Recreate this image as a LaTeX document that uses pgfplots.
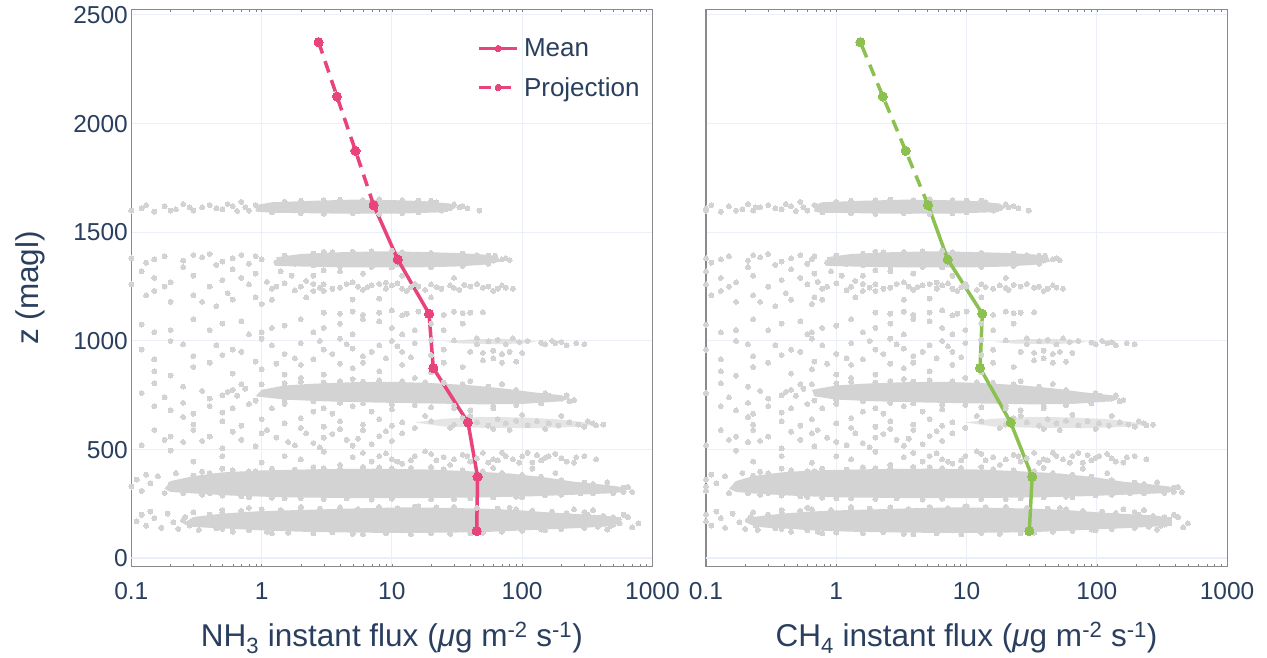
\documentclass[border=0pt]{standalone}
\usepackage{pgfplots}
\pgfplotsset{compat=1.18}
\usepackage{pgfplotstable}
\usepackage{fontspec}
\setmainfont{Liberation Sans}
\definecolor{txt}{HTML}{2A3F5F}
\definecolor{gridc}{HTML}{EBF0F8}
\definecolor{boxc}{HTML}{8A8A8A}
\definecolor{ptc}{HTML}{D3D3D3}
\definecolor{nhc}{HTML}{E8437B}
\definecolor{chc}{HTML}{8CC152}

% scatter points: a = NH3 flux, b = CH4 flux, z = height
\pgfplotstableread{
a b z
0.11 0.10 170
0.12 0.10 200
0.13 0.11 150
0.15 0.13 185
0.17 0.14 140
0.19 0.16 205
0.21 0.18 165
0.23 0.20 135
0.26 0.22 190
0.28 0.24 150
0.30 0.23 212
0.33 0.25 130
0.36 0.27 178
0.40 0.30 200
0.45 0.34 138
0.50 0.38 222
0.60 0.45 122
0.80 0.60 232
1.2 0.78 114
2.0 1.3 236
5.0 3.3 112
15 9.8 238
40 26 115
80 52 232
150 98 128
300 195 212
450 290 132
550 360 178
650 420 190
780 500 160
700 460 142
350 230 222
600 390 200
500 330 155
250 160 225
0.14 0.12 215
0.35 0.26 160
0.7 0.53 190
0.55 0.41 170
0.42 0.32 185
0.25 0.21 175
0.10 0.10 330
0.11 0.10 362
0.12 0.10 310
0.14 0.12 345
0.16 0.14 378
0.18 0.15 300
0.20 0.17 340
0.22 0.19 392
0.25 0.21 322
0.30 0.23 365
0.35 0.26 398
0.40 0.30 300
0.50 0.38 412
0.70 0.53 285
0.13 0.11 385
0.28 0.24 345
0.45 0.34 335
250 160 330
300 195 312
350 230 342
400 260 322
500 330 300
580 380 315
650 420 328
280 180 298
180 120 392
120 78 412
60 39 416
20 13 420
8 5.2 418
3 2.0 414
700 450 305
450 290 350
0.9 0.68 400
1.5 1.0 275
30 20 272
100 65 280
1.0 0.65 440
1.5 1.0 470
2.0 1.3 455
3.0 2.0 490
4.0 2.6 430
5.0 3.3 465
7.0 4.6 445
9.0 5.9 482
12 7.8 435
15 9.8 470
18 12 492
22 14 450
28 18 430
35 23 476
45 29 460
55 36 440
70 46 486
85 55 455
100 65 470
120 78 440
150 98 462
180 120 480
220 140 445
300 195 470
370 240 455
0.5 0.38 470
0.3 0.23 445
0.2 0.17 495
25 16 465
60 39 455
130 85 475
40 26 445
10 6.5 455
250 160 440
0.12 0.10 520
0.20 0.17 560
0.35 0.26 540
0.60 0.45 582
0.90 0.68 515
1.3 0.85 555
2.0 1.3 600
2.5 1.6 530
3.5 2.3 572
4.5 2.9 545
6.0 3.9 590
8.0 5.2 562
0.15 0.13 590
0.50 0.38 505
1.8 1.2 520
5.0 3.3 518
0.25 0.21 535
1.0 0.65 575
3.0 2.0 555
12 7.8 575
0.5 0.38 630
0.7 0.53 610
1.0 0.65 640
1.5 1.0 620
2.0 1.3 645
3.0 2.0 605
4.0 2.6 630
6.0 3.9 615
8.0 5.2 640
12 7.8 625
15 9.8 600
18 12 655
300 195 605
350 230 620
420 270 615
200 130 655
100 65 660
80 52 590
150 98 595
0.3 0.23 615
0.25 0.21 650
10 6.5 610
0.20 0.17 680
0.40 0.30 700
1.2 0.78 690
2.5 1.6 675
5.0 3.3 700
10 6.5 685
20 13 695
40 26 680
0.80 0.60 710
0.15 0.13 700
3.5 2.3 665
0.3 0.23 665
0.12 0.10 760
0.18 0.15 740
0.25 0.21 790
0.35 0.26 770
0.50 0.38 750
0.70 0.53 800
0.90 0.68 725
80 52 765
100 65 745
130 85 732
160 105 748
200 130 735
250 160 728
2.0 1.3 830
5.0 3.3 825
15 9.8 830
40 26 815
70 46 802
0.6 0.45 775
0.4 0.30 735
0.15 0.13 805
0.15 0.13 860
0.30 0.23 880
0.60 0.45 850
1.0 0.65 870
2.0 1.3 890
3.0 2.0 845
5.0 3.3 875
8.0 5.2 860
12 7.8 890
20 13 855
35 23 880
0.2 0.17 840
1.5 1.0 845
4.0 2.6 895
0.12 0.10 960
0.20 0.17 1000
0.30 0.23 930
0.45 0.34 980
0.70 0.53 950
1.0 0.65 1010
1.5 1.0 940
2.0 1.3 990
3.0 2.0 960
4.0 2.6 1010
6.0 3.9 930
8.0 5.2 980
10 6.5 1000
12 7.8 950
15 9.8 990
20 13 1005
150 98 985
180 120 990
220 140 980
300 195 985
40 26 950
50 33 945
60 39 955
70 46 940
80 52 950
100 65 945
50 33 910
70 46 900
90 58 905
60 39 920
20 13 935
25 16 900
0.9 0.68 905
2.5 1.6 915
5.0 3.3 965
0.15 0.13 915
0.20 0.17 1050
0.50 0.38 1080
1.0 0.65 1040
2.0 1.3 1100
3.0 2.0 1060
5.0 3.3 1030
8.0 5.2 1090
15 9.8 1050
0.30 0.23 1100
0.80 0.60 1030
0.12 0.10 1075
1.5 1.0 1070
3 2.0 1130
4 2.6 1125
5 3.3 1135
6 3.9 1120
8 5.2 1130
10 6.5 1140
13 8.5 1125
16 10 1135
20 13 1130
25 16 1120
30 20 1135
35 23 1128
40 26 1130
50 33 1132
12 7.8 1118
0.10 0.10 1260
0.15 0.13 1230
0.20 0.17 1270
0.30 0.23 1210
0.40 0.30 1250
0.60 0.45 1190
0.80 0.60 1260
1.2 0.78 1240
1.5 1.0 1265
2.0 1.3 1250
2.5 1.6 1230
3.0 2.0 1260
4.0 2.6 1245
5.0 3.3 1270
6.0 3.9 1235
7.0 4.6 1255
9.0 5.9 1240
11 7.2 1265
13 8.5 1230
16 10 1250
20 13 1260
24 16 1240
28 18 1255
33 21 1235
40 26 1250
50 33 1245
60 39 1230
70 46 1255
85 55 1240
1.1 0.72 1272
2.2 1.4 1276
3.5 2.3 1240
5.5 3.6 1250
10 6.5 1255
18 12 1235
1.8 1.2 1232
8 5.2 1262
14 9.1 1248
45 29 1262
0.12 0.10 1320
0.20 0.17 1180
0.30 0.23 1300
0.45 0.34 1160
0.60 0.45 1330
0.90 0.68 1200
1.4 0.91 1320
0.25 0.21 1340
0.15 0.13 1290
0.7 0.53 1290
2.5 1.6 1300
4 2.6 1320
5 3.3 1190
1 0.65 1170
0.10 0.10 1380
0.13 0.11 1360
0.18 0.15 1390
0.25 0.21 1370
0.35 0.26 1385
0.50 0.38 1365
0.70 0.53 1395
1.0 0.65 1375
1.3 0.85 1360
50 33 1380
60 39 1370
70 46 1375
45 29 1395
3 2.0 1410
10 6.5 1415
0.8 0.6 1355
0.4 0.3 1400
0.10 0.10 1600
0.12 0.10 1610
0.15 0.13 1595
0.18 0.15 1620
0.22 0.19 1605
0.25 0.21 1630
0.30 0.23 1600
0.35 0.26 1615
0.40 0.30 1625
0.50 0.38 1605
0.60 0.45 1620
0.70 0.53 1640
0.80 0.60 1600
25 16 1622
28 18 1610
30 20 1628
33 21 1615
47 30 1600
}\scat

% more points, along the edges of the dense bands and in the medium bands
\pgfplotstableread{
a b z
0.5 0.38 210
0.7 0.53 218
1 0.65 225
1.4 0.91 222
2 1.3 230
2.8 1.8 228
4 2.6 234
5.5 3.6 226
8 5.2 236
11 7.2 230
16 10 240
22 14 234
30 20 236
45 29 232
65 42 228
90 58 226
120 78 218
170 110 214
220 140 208
320 210 200
420 270 195
500 330 188
0.5 0.38 135
0.8 0.60 128
1.1 0.72 122
1.6 1.0 118
2.5 1.6 115
3.5 2.3 120
6 3.9 110
9 5.9 114
14 9.1 110
20 13 116
28 18 112
50 33 118
70 46 122
100 65 126
140 91 132
200 130 134
300 195 140
380 250 145
480 310 150
560 360 160
0.3 0.23 380
0.4 0.30 392
0.6 0.45 405
0.8 0.60 400
1.2 0.78 412
1.8 1.2 408
2.5 1.6 418
4 2.6 412
6 3.9 420
10 6.5 414
14 9.1 416
25 16 410
35 23 404
50 33 400
70 46 392
100 65 384
140 91 375
200 130 360
300 195 348
450 290 332
600 390 325
0.25 0.21 300
0.35 0.26 292
0.5 0.38 288
0.8 0.60 282
1.2 0.78 278
2 1.3 276
3 2.0 272
4.5 2.9 275
7 4.6 270
10 6.5 274
20 13 272
40 26 276
60 39 280
90 58 283
150 98 290
200 130 292
350 230 298
600 390 305
1 0.65 800
1.5 1.0 805
2 1.3 812
3 2.0 808
4 2.6 815
6 3.9 812
8 5.2 818
12 7.8 815
18 12 810
25 16 808
35 23 800
55 36 790
90 58 775
150 98 760
220 140 750
1.5 1.0 730
2.5 1.6 722
4 2.6 715
6 3.9 712
10 6.5 708
15 9.8 705
30 20 702
60 39 700
90 58 705
140 91 712
230 150 722
0.55 0.41 765
0.65 0.49 748
0.75 0.56 780
1.5 1.0 1392
2.5 1.6 1402
3.5 2.3 1408
5 3.3 1410
7 4.6 1412
12 7.8 1408
20 13 1405
35 23 1402
55 36 1392
1.8 1.2 1355
2.5 1.6 1348
4 2.6 1342
7 4.6 1340
10 6.5 1338
20 13 1340
35 23 1345
55 36 1355
0.9 0.68 1625
1.5 1.0 1640
2 1.3 1645
3 2.0 1648
4 2.6 1650
6 3.9 1647
8 5.2 1652
12 7.8 1648
16 10 1645
22 14 1638
1.2 0.78 1592
2 1.3 1588
3 2.0 1585
5 3.3 1588
8 5.2 1585
12 7.8 1588
16 10 1592
24 16 1600
20 13 630
30 20 615
35 23 645
45 29 625
55 36 610
65 42 640
75 49 620
90 58 632
110 72 612
130 85 630
160 104 620
190 124 610
230 150 625
270 175 615
320 210 630
370 240 612
28 18 600
60 39 595
40 26 655
30 20 1002
45 29 1012
55 36 998
65 42 1005
85 55 1012
95 62 995
110 72 1000
140 91 992
170 110 1000
200 130 995
260 170 990
45 29 985
75 49 985
8 5.2 470
14 9.1 450
20 13 480
30 20 455
38 25 470
50 33 485
65 42 450
75 49 470
95 62 440
110 72 485
140 91 450
160 104 470
200 130 460
260 170 465
6 3.9 485
11 7.2 445
0.4 0.30 900
0.6 0.45 960
1.2 0.78 980
1.8 1.2 920
3.5 2.3 940
4.5 2.9 985
7 4.6 950
9 5.9 920
0.25 0.21 985
0.5 0.38 935
1.3 0.85 895
2.8 1.8 1000
6 3.9 900
11 7.2 975
14 9.1 925
25 16 960
0.4 0.30 560
0.7 0.53 545
1.1 0.72 590
1.6 1.0 535
2.2 1.4 575
2.8 1.8 510
4 2.6 595
5.5 3.6 550
7 4.6 525
9 5.9 585
10 6.5 540
0.3 0.23 590
0.18 0.15 545
0.6 0.45 690
1.5 1.0 710
3 2.0 690
7 4.6 675
15 9.8 705
30 20 690
60 39 690
0.25 0.21 715
0.5 0.38 670
0.4 0.30 1050
0.7 0.53 1090
1.2 0.78 1060
2.5 1.6 1040
4 2.6 1080
6 3.9 1100
10 6.5 1060
12 7.8 1030
20 13 1080
0.15 0.13 1040
25 16 1050
35 23 1080
0.18 0.15 1250
0.35 0.26 1180
0.5 0.38 1280
0.55 0.41 1220
0.9 0.68 1310
1.2 0.78 1190
1.7 1.1 1300
2.2 1.4 1200
3 2.0 1325
0.13 0.11 1210
6 3.9 1310
8 5.2 1195
12 7.8 1300
20 13 1200
30 20 1290
1.3 0.85 1250
2.8 1.8 1245
4.5 2.9 1262
6.5 4.2 1248
12 7.8 1240
15 9.8 1262
22 14 1248
30 20 1244
36 23 1258
55 36 1250
65 42 1240
75 49 1245
3 2.0 1230
9 5.9 1268
2.5 1.6 1262
0.15 0.13 1375
0.3 0.23 1395
0.6 0.45 1380
0.9 0.68 1390
0.45 0.34 1350
0.13 0.11 1625
0.2 0.17 1600
0.28 0.24 1615
0.45 0.34 1610
0.55 0.41 1630
0.65 0.49 1598
0.75 0.56 1615
20 13 1645
26 17 1605
35 23 1620
38 25 1610
55 36 1385
62 40 1392
75 49 1380
80 52 1372
}\scatb

% dense cores of the point bands (outlines)
\pgfplotstableread{
a b z
0.25 0.21 160
0.30 0.23 190
0.50 0.38 205
0.80 0.60 214
1.5 1.0 220
3 2.0 225
6 3.9 230
12 7.8 234
25 16 232
50 33 228
90 58 222
150 98 212
250 160 204
400 260 198
520 340 190
560 365 170
520 340 150
420 270 145
250 160 138
120 78 130
60 39 122
30 20 118
12 7.8 116
5 3.3 118
2 1.3 122
1 0.65 128
0.6 0.45 135
0.4 0.30 140
0.28 0.24 145
}\coreA
\pgfplotstableread{
a b z
0.18 0.15 320
0.20 0.17 355
0.30 0.23 378
0.50 0.38 395
1 0.65 404
3 2.0 410
8 5.2 412
20 13 408
40 26 400
80 52 390
150 98 372
250 160 352
400 260 340
550 360 330
600 390 318
550 360 302
450 290 298
250 160 292
120 78 285
50 33 280
15 9.8 276
5 3.3 277
1.5 1.0 280
0.6 0.45 288
0.3 0.23 298
0.2 0.17 305
}\coreB
\pgfplotstableread{
a b z
15 9.8 625
25 16 642
50 33 650
100 65 648
180 120 640
280 180 628
380 250 615
250 160 604
120 78 598
50 33 600
25 16 606
}\coreC
\pgfplotstableread{
a b z
0.9 0.68 745
1 0.65 775
1.5 1.0 795
2.5 1.6 803
5 3.3 810
10 6.5 812
20 13 806
40 26 796
70 46 782
120 78 764
200 130 750
230 150 735
200 130 722
100 65 710
50 33 708
20 13 712
8 5.2 716
3 2.0 722
1.5 1.0 730
}\coreD
\pgfplotstableread{
a b z
25 16 995
40 26 1007
70 46 1010
100 65 1005
130 85 996
100 65 988
60 39 985
35 23 988
}\coreE
\pgfplotstableread{
a b z
1.3 0.85 1345
1.3 0.85 1385
2 1.3 1400
4 2.6 1408
8 5.2 1412
15 9.8 1410
30 20 1405
50 33 1398
65 42 1388
68 44 1365
50 33 1350
30 20 1342
15 9.8 1338
6 3.9 1338
3 2.0 1340
1.8 1.2 1343
}\coreF
\pgfplotstableread{
a b z
0.9 0.68 1595
0.9 0.68 1625
1.2 0.78 1638
2.5 1.6 1645
5 3.3 1650
10 6.5 1648
18 12 1643
28 18 1632
31 20 1612
25 16 1592
12 7.8 1586
5 3.3 1585
2 1.3 1588
1.2 0.78 1590
}\coreG

\begin{document}
\begin{tikzpicture}
\useasboundingbox (0,0) rectangle (1267bp,658bp);
\begin{axis}[at={(131.3bp,91.3bp)}, anchor=south west,
    scale only axis, width=521.1bp, height=557.4bp,
    xmode=log, xmin=0.1, xmax=1000, ymin=-39, ymax=2526,
    xtick={0.1,1,10,100,1000},
    xticklabels={0.1,1,10,100,1000},
    ytick={0,500,1000,1500,2000,2500},
    yticklabels={0,500,1000,1500,2000,2500},
    grid=major,
    major grid style={color=gridc, line width=1bp},
    major tick length=0pt,
    axis line style={color=boxc, line width=1.2bp},
    tick label style={font=\fontsize{24.5bp}{29bp}\selectfont, text=txt},
    xticklabel style={anchor=base, yshift=-32.6bp},
    label style={font=\fontsize{31.5bp}{37bp}\selectfont, text=txt},
    xlabel style={at={(axis description cs:0.5,-0.1435)}, anchor=base},
    ylabel={z (magl)},
    ylabel style={at={(axis description cs:-0.194,0.5)}, anchor=center},
    xlabel={NH\textsubscript{3} instant flux (\textit{μ}g m\textsuperscript{-2} s\textsuperscript{-1})},
    legend style={draw=none, fill=none, at={(axis description cs:0.664,0.951)}, anchor=north west,
      font=\fontsize{26bp}{31bp}\selectfont, text=txt, inner sep=0pt, row sep=15bp,
      nodes={inner xsep=5bp}},
    legend cell align=left,
    legend image code/.code={\draw[mark repeat=2, mark phase=2, #1, mark size=3.2bp] plot coordinates {(0bp,0bp) (19bp,0bp) (38bp,0bp)};},
]
\draw[gridc, line width=2.4bp] (axis cs:0.1,0) -- (axis cs:1000,0);
\addplot[fill=ptc, draw=none, forget plot] table[x=a, y=z] {\coreA};
\addplot[fill=ptc, draw=none, forget plot] table[x=a, y=z] {\coreB};
\addplot[fill=ptc, fill opacity=0.6, draw=none, forget plot] table[x=a, y=z] {\coreC};
\addplot[fill=ptc, draw=none, forget plot] table[x=a, y=z] {\coreD};
\addplot[fill=ptc, fill opacity=0.6, draw=none, forget plot] table[x=a, y=z] {\coreE};
\addplot[fill=ptc, draw=none, forget plot] table[x=a, y=z] {\coreF};
\addplot[fill=ptc, draw=none, forget plot] table[x=a, y=z] {\coreG};
\addplot[color=ptc, only marks, mark=*, mark size=2.5bp, mark options={fill=ptc, draw=ptc, line width=0pt}, forget plot] table[x=a, y=z] {\scat};
\addplot[color=ptc, only marks, mark=*, mark size=2.5bp, mark options={fill=ptc, draw=ptc, line width=0pt}, forget plot] table[x=a, y=z] {\scatb};
\addplot[nhc, line width=3.5bp, line join=round, mark=*, mark size=4.6bp, mark options={solid, fill=nhc, line width=0pt}]
  coordinates {(44.8,125) (45.5,375) (38.4,625) (20.8,875) (19.3,1125) (11.1,1375) (7.25,1625)};
\addlegendentry{Mean}
\addplot[nhc, line width=3.5bp, dash pattern=on 12bp off 8bp, mark=*, mark size=4.6bp, mark options={solid, fill=nhc, line width=0pt}]
  coordinates {(7.25,1625) (5.26,1875) (3.79,2125) (2.74,2375)};
\addlegendentry{Projection}
\end{axis}
\begin{axis}[at={(706bp,91.3bp)}, anchor=south west,
    scale only axis, width=521.1bp, height=557.4bp,
    xmode=log, xmin=0.1, xmax=1000, ymin=-39, ymax=2526,
    xtick={0.1,1,10,100,1000},
    xticklabels={0.1,1,10,100,1000},
    ytick={0,500,1000,1500,2000,2500},
    yticklabels={},
    grid=major,
    major grid style={color=gridc, line width=1bp},
    major tick length=0pt,
    axis line style={color=boxc, line width=1.2bp},
    tick label style={font=\fontsize{24.5bp}{29bp}\selectfont, text=txt},
    xticklabel style={anchor=base, yshift=-32.6bp},
    label style={font=\fontsize{31.5bp}{37bp}\selectfont, text=txt},
    xlabel style={at={(axis description cs:0.5,-0.1435)}, anchor=base},
    xlabel={CH\textsubscript{4} instant flux (\textit{μ}g m\textsuperscript{-2} s\textsuperscript{-1})},
]
\draw[gridc, line width=2.4bp] (axis cs:0.1,0) -- (axis cs:1000,0);
\addplot[fill=ptc, draw=none, forget plot] table[x=b, y=z] {\coreA};
\addplot[fill=ptc, draw=none, forget plot] table[x=b, y=z] {\coreB};
\addplot[fill=ptc, fill opacity=0.6, draw=none, forget plot] table[x=b, y=z] {\coreC};
\addplot[fill=ptc, draw=none, forget plot] table[x=b, y=z] {\coreD};
\addplot[fill=ptc, fill opacity=0.6, draw=none, forget plot] table[x=b, y=z] {\coreE};
\addplot[fill=ptc, draw=none, forget plot] table[x=b, y=z] {\coreF};
\addplot[fill=ptc, draw=none, forget plot] table[x=b, y=z] {\coreG};
\addplot[color=ptc, only marks, mark=*, mark size=2.5bp, mark options={fill=ptc, draw=ptc, line width=0pt}, forget plot] table[x=b, y=z] {\scat};
\addplot[color=ptc, only marks, mark=*, mark size=2.5bp, mark options={fill=ptc, draw=ptc, line width=0pt}, forget plot] table[x=b, y=z] {\scatb};
\addplot[chc, line width=3.5bp, line join=round, mark=*, mark size=4.6bp, mark options={solid, fill=chc, line width=0pt}]
  coordinates {(30.3,125) (31.9,375) (21.8,625) (12.7,875) (13.2,1125) (7.17,1375) (5.07,1625)};
\addplot[chc, line width=3.5bp, dash pattern=on 12bp off 8bp, mark=*, mark size=4.6bp, mark options={solid, fill=chc, line width=0pt}]
  coordinates {(5.07,1625) (3.41,1875) (2.28,2125) (1.53,2375)};
\end{axis}
\end{tikzpicture}
\end{document}
